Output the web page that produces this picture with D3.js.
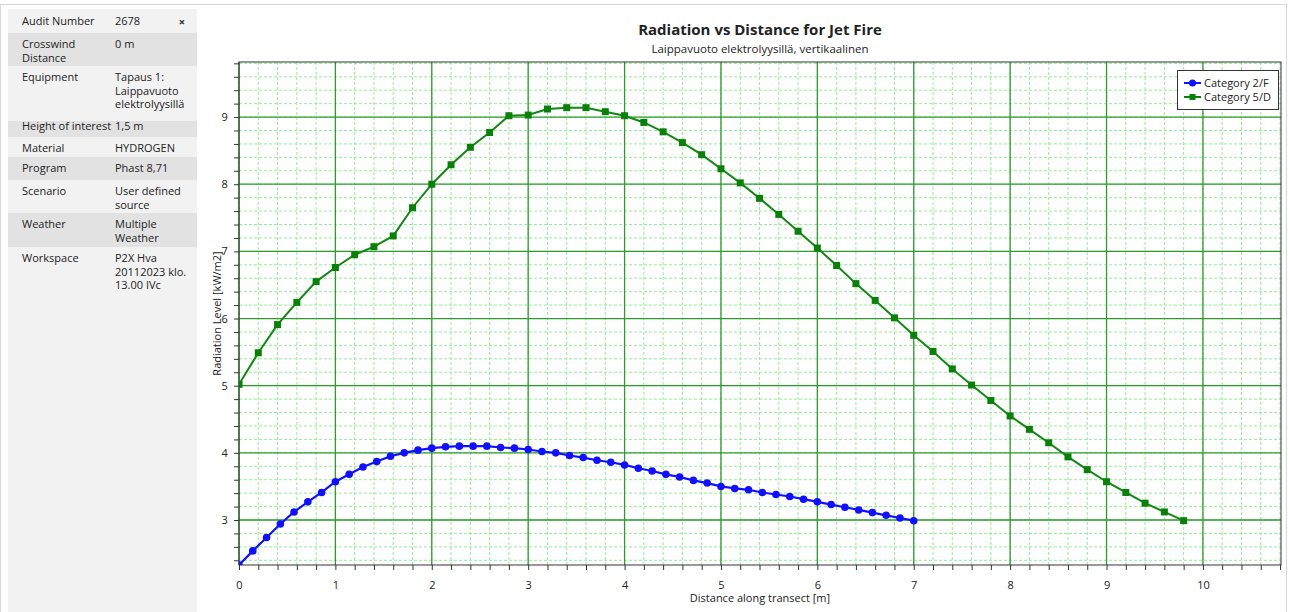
<!DOCTYPE html>
<html lang="en">
<head>
<meta charset="utf-8">
<title>Radiation vs Distance for Jet Fire</title>
<script src="https://d3js.org/d3.v7.min.js"></script>
<style>
  body { margin: 0; background: #fff; }
  text { font-family: 'Open Sans', 'Noto Sans', sans-serif; fill: #222; }
</style>
</head>
<body>
<script>
// info panel rows: label, value lines
var infoLabels = ["Audit Number", "Crosswind\nDistance", "Equipment", "Height of interest",
                  "Material", "Program", "Scenario", "Weather", "Workspace"];
var infoValues = ["2678", "0 m", "Tapaus 1:\nLaippavuoto\nelektrolyysillä", "1,5 m",
                  "HYDROGEN", "Phast 8,71", "User defined\nsource", "Multiple\nWeather",
                  "P2X Hva\n20112023 klo.\n13.00 IVc"];

// Category 2/F (blue, circles)
var distF = [0, 0.143, 0.286, 0.429, 0.571, 0.714, 0.857, 1.0, 1.143, 1.286,
             1.429, 1.571, 1.714, 1.857, 2.0, 2.143, 2.286, 2.429, 2.571, 2.714,
             2.857, 3.0, 3.143, 3.286, 3.429, 3.571, 3.714, 3.857, 4.0, 4.143,
             4.286, 4.429, 4.571, 4.714, 4.857, 5.0, 5.143, 5.286, 5.429, 5.571,
             5.714, 5.857, 6.0, 6.143, 6.286, 6.429, 6.571, 6.714, 6.857, 7.0];
var radF = [2.33, 2.54, 2.74, 2.94, 3.12, 3.27, 3.41, 3.57, 3.68, 3.79,
            3.87, 3.95, 4.00, 4.04, 4.07, 4.09, 4.10, 4.10, 4.10, 4.08,
            4.07, 4.05, 4.02, 4.00, 3.96, 3.93, 3.89, 3.86, 3.82, 3.77,
            3.73, 3.68, 3.64, 3.59, 3.55, 3.50, 3.47, 3.45, 3.41, 3.38,
            3.35, 3.31, 3.27, 3.23, 3.19, 3.15, 3.11, 3.07, 3.03, 2.99];

// Category 5/D (green, squares)
var distD = [0, 0.2, 0.4, 0.6, 0.8, 1.0, 1.2, 1.4, 1.6, 1.8,
             2.0, 2.2, 2.4, 2.6, 2.8, 3.0, 3.2, 3.4, 3.6, 3.8,
             4.0, 4.2, 4.4, 4.6, 4.8, 5.0, 5.2, 5.4, 5.6, 5.8,
             6.0, 6.2, 6.4, 6.6, 6.8, 7.0, 7.2, 7.4, 7.6, 7.8,
             8.0, 8.2, 8.4, 8.6, 8.8, 9.0, 9.2, 9.4, 9.6, 9.8];
var radD = [5.02, 5.49, 5.91, 6.24, 6.55, 6.76, 6.95, 7.07, 7.23, 7.65,
            8.00, 8.29, 8.55, 8.77, 9.02, 9.03, 9.12, 9.14, 9.14, 9.08,
            9.02, 8.92, 8.78, 8.62, 8.44, 8.23, 8.02, 7.79, 7.55, 7.30,
            7.05, 6.79, 6.52, 6.27, 6.01, 5.75, 5.51, 5.25, 5.01, 4.78,
            4.55, 4.35, 4.15, 3.94, 3.75, 3.57, 3.41, 3.25, 3.12, 2.99];

var seriesNames = ["Category 2/F", "Category 5/D"];
var xTicks = [0, 1, 2, 3, 4, 5, 6, 7, 8, 9, 10];
var yTicks = [3, 4, 5, 6, 7, 8, 9];

var W = 1290, H = 612;
// plot box (don't use "top" - clashes with window.top)
var pL = 239, pR = 1281, pT = 62, pB = 565;

var svg = d3.select("body").append("svg")
    .attr("width", W).attr("height", H);

// outer frame
svg.append("rect").attr("x", 0.5).attr("y", 4.5).attr("width", W - 4).attr("height", H)
   .attr("fill", "none").attr("stroke", "#d8d8d8");

//----- info panel -----
var panel = svg.append("g");
panel.append("rect").attr("x", 8).attr("y", 9).attr("width", 189).attr("height", H - 9)
     .attr("fill", "#f2f2f2");
var rowTops = [10, 33, 66, 121, 137, 157, 180, 213, 247, 297];
infoLabels.forEach(function(lab, i) {
  if (i % 2 == 1) {
    panel.append("rect").attr("x", 8).attr("y", rowTops[i]).attr("width", 189)
         .attr("height", rowTops[i + 1] - rowTops[i]).attr("fill", "#e2e2e2");
  }
  var y0 = rowTops[i] + 15;
  if (i == 3) y0 = rowTops[i] + 9;
  lab.split("\n").forEach(function(s, j) {
    panel.append("text").attr("x", 22).attr("y", y0 + j * 13.7)
         .style("font-size", "11px").text(s);
  });
  infoValues[i].split("\n").forEach(function(s, j) {
    panel.append("text").attr("x", 115).attr("y", y0 + j * 13.7)
         .style("font-size", "11px").text(s);
  });
});
panel.append("text").attr("x", 182).attr("y", 26).attr("text-anchor", "middle")
     .style("font-size", "11px").style("font-weight", "bold").text("×");

//----- chart -----
var x = d3.scaleLinear().domain([0, 10.81]).range([pL, pR]);
var y = d3.scaleLinear().domain([2.33, 9.82]).range([pB, pT]);

var minorX = d3.range(0, 10.81, 0.2);
var minorY = d3.range(2.4, 9.82, 0.2);

var grid = svg.append("g");
grid.selectAll(".mx").data(minorX).enter().append("line")
    .attr("x1", d => x(d)).attr("x2", d => x(d)).attr("y1", pT).attr("y2", pB)
    .attr("stroke", "#96ec96").attr("stroke-dasharray", "3,2");
grid.selectAll(".my").data(minorY).enter().append("line")
    .attr("y1", d => y(d)).attr("y2", d => y(d)).attr("x1", pL).attr("x2", pR)
    .attr("stroke", "#96ec96").attr("stroke-dasharray", "3,2");
grid.selectAll(".Mx").data(xTicks).enter().append("line")
    .attr("x1", d => x(d)).attr("x2", d => x(d)).attr("y1", pT).attr("y2", pB)
    .attr("stroke", "#2f9a2f").attr("stroke-width", 1.3);
grid.selectAll(".My").data(yTicks).enter().append("line")
    .attr("y1", d => y(d)).attr("y2", d => y(d)).attr("x1", pL).attr("x2", pR)
    .attr("stroke", "#2f9a2f").attr("stroke-width", 1.3);

// axes
var isMajor = (list) => (d => list.indexOf(Math.round(d * 10) / 10) >= 0 ? d3.format("d")(d) : "");
var xAxis = d3.axisBottom(x).tickValues(minorX).tickSizeOuter(0).tickSize(5).tickFormat(isMajor(xTicks));
var yAxis = d3.axisLeft(y).tickValues(minorY).tickSizeOuter(0).tickSize(5).tickFormat(isMajor(yTicks));

var gx = svg.append("g").attr("transform", "translate(0," + pB + ")").call(xAxis);
var gy = svg.append("g").attr("transform", "translate(" + pL + ",0)").call(yAxis);
[gx, gy].forEach(function(g) {
  g.select(".domain").remove();
  g.selectAll(".tick line").attr("stroke", "#333");
  g.selectAll(".tick text").style("font-size", "11px").attr("fill", "#333")
   .style("font-family", "'Open Sans', sans-serif");
});
gx.selectAll(".tick text").attr("dy", "1.45em");
gy.selectAll(".tick text").attr("dx", "-0.3em");

// plot frame
svg.append("rect").attr("x", pL).attr("y", pT).attr("width", pR - pL)
   .attr("height", pB - pT).attr("fill", "none").attr("stroke", "#333");

// clip
svg.append("clipPath").attr("id", "plotclip").append("rect")
   .attr("x", pL).attr("y", pT).attr("width", pR - pL).attr("height", pB - pT);

var plot = svg.append("g").attr("clip-path", "url(#plotclip)");

var dataF = distF.map((d, i) => [d, radF[i]]);
var dataD = distD.map((d, i) => [d, radD[i]]);
var line = d3.line().x(d => x(d[0])).y(d => y(d[1]));

plot.append("path").datum(dataD).attr("d", line)
    .attr("fill", "none").attr("stroke", "#118811").attr("stroke-width", 2);
plot.selectAll(".sq").data(dataD).enter().append("rect")
    .attr("x", d => x(d[0]) - 3.5).attr("y", d => y(d[1]) - 3.5)
    .attr("width", 7).attr("height", 7).attr("fill", "#0a800a");

plot.append("path").datum(dataF).attr("d", line)
    .attr("fill", "none").attr("stroke", "#1010ff").attr("stroke-width", 2.2);
plot.selectAll(".ci").data(dataF).enter().append("circle")
    .attr("cx", d => x(d[0])).attr("cy", d => y(d[1])).attr("r", 3.8)
    .attr("fill", "#1010ff");

// titles
var cx = (pL + pR) / 2;
svg.append("text").attr("x", cx).attr("y", 35).attr("text-anchor", "middle")
   .style("font-size", "15px").style("font-weight", "bold").text("Radiation vs Distance for Jet Fire");
svg.append("text").attr("x", cx).attr("y", 53).attr("text-anchor", "middle")
   .style("font-size", "11.5px").text("Laippavuoto elektrolyysillä, vertikaalinen");
svg.append("text").attr("x", cx).attr("y", 602).attr("text-anchor", "middle")
   .style("font-size", "11px").text("Distance along transect [m]");
svg.append("text").attr("transform", "translate(221," + (pT + pB) / 2 + ") rotate(-90)")
   .attr("text-anchor", "middle").style("font-size", "11px").text("Radiation Level [kW/m2]");

// legend
var lg = svg.append("g").attr("transform", "translate(1177,70)");
lg.append("rect").attr("x", 0.5).attr("y", 0.5).attr("width", 101).attr("height", 39)
  .attr("fill", "#fff").attr("stroke", "#333");
var cols = ["#1010ff", "#0a800a"];
seriesNames.forEach(function(n, i) {
  var yy = 13 + i * 14;
  lg.append("line").attr("x1", 7).attr("x2", 24).attr("y1", yy).attr("y2", yy)
    .attr("stroke", cols[i]).attr("stroke-width", 2);
  if (i == 0) lg.append("circle").attr("cx", 15.5).attr("cy", yy).attr("r", 3.5).attr("fill", cols[i]);
  else lg.append("rect").attr("x", 12.5).attr("y", yy - 3).attr("width", 6).attr("height", 6).attr("fill", cols[i]);
  lg.append("text").attr("x", 27).attr("y", yy + 4).style("font-size", "11px").text(n);
});
</script>
</body>
</html>
